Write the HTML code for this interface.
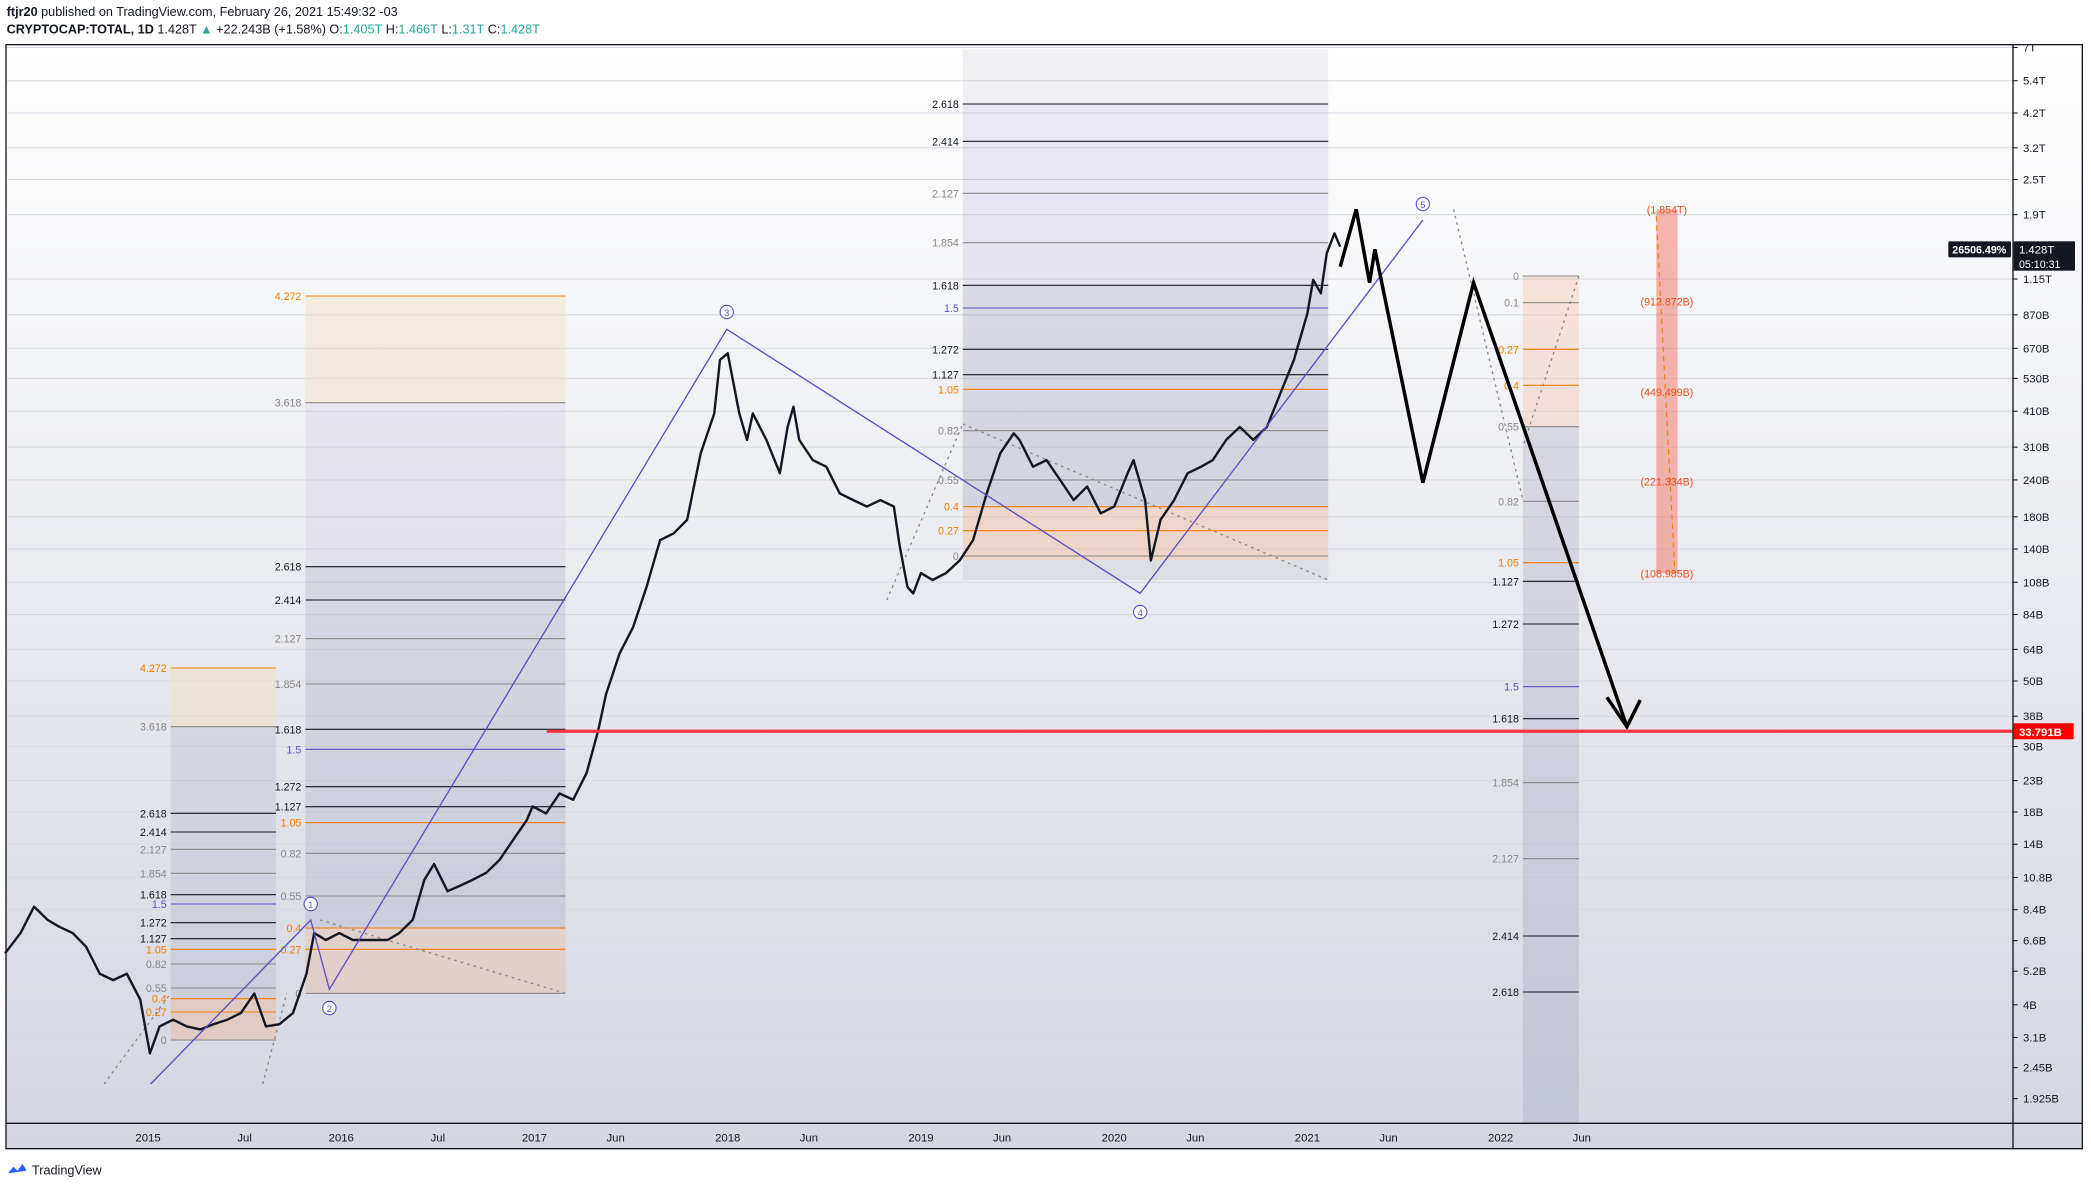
<!DOCTYPE html>
<html><head><meta charset="utf-8"><style>
html,body{margin:0;padding:0;background:#fff;}
svg{display:block;font-family:"Liberation Sans",sans-serif;}
</style></head><body>
<svg id="chart" width="2091" height="1188" viewBox="0 0 1568 891" preserveAspectRatio="none" xmlns="http://www.w3.org/2000/svg">
<defs>
<linearGradient id="bg" x1="0" y1="0" x2="0" y2="1"><stop offset="0" stop-color="#ffffff"/><stop offset="1" stop-color="#d3d6e0"/></linearGradient>
</defs>
<text x="5" y="12" font-size="9.5" fill="#131722"><tspan font-weight="bold">ftjr20</tspan> published on TradingView.com, February 26, 2021 15:49:32 -03</text>
<text x="5" y="25" font-size="9.5" fill="#131722"><tspan font-weight="bold">CRYPTOCAP:TOTAL, 1D</tspan> 1.428T <tspan fill="#26a69a">▲</tspan> +22.243B (+1.58%) O:<tspan fill="#26a69a">1.405T</tspan> H:<tspan fill="#26a69a">1.466T</tspan> L:<tspan fill="#26a69a">1.31T</tspan> C:<tspan fill="#26a69a">1.428T</tspan></text>
<rect x="4.5" y="33.5" width="1557" height="828" fill="url(#bg)" stroke="#131722" stroke-width="1"/>
<g id="grid"></g>
<g id="annot"></g>
<g id="series"></g>
<g id="overlay"></g>
<line x1="1509.5" y1="33" x2="1509.5" y2="862" stroke="#131722" stroke-width="1"/>
<line x1="4" y1="842.5" x2="1562" y2="842.5" stroke="#131722" stroke-width="1"/>
<g id="axes"></g>
<text x="24" y="881" font-size="9.5" fill="#131722">TradingView</text>
<path d="M6 880 l4 -5 l3 3 l4 -5 l3 5 z" fill="#2962ff"/>
</svg>
<script>
const NS="http://www.w3.org/2000/svg";
// ---- data ----
const dates=[2014.26,2014.34,2014.41,2014.48,2014.54,2014.61,2014.68,2014.75,2014.82,2014.89,2014.96,2015.01,2015.06,2015.13,2015.20,2015.27,2015.34,2015.41,2015.48,2015.55,2015.61,2015.68,2015.75,2015.82,2015.86,2015.92,2015.99,2016.06,2016.13,2016.24,2016.30,2016.37,2016.43,2016.48,2016.55,2016.61,2016.68,2016.75,2016.82,2016.89,2016.96,2016.99,2017.06,2017.13,2017.20,2017.27,2017.33,2017.37,2017.44,2017.51,2017.58,2017.65,2017.72,2017.79,2017.86,2017.93,2017.96,2018.00,2018.02,2018.06,2018.10,2018.13,2018.20,2018.27,2018.31,2018.34,2018.37,2018.44,2018.51,2018.58,2018.65,2018.72,2018.79,2018.86,2018.89,2018.93,2018.96,2019.00,2019.06,2019.13,2019.20,2019.27,2019.34,2019.41,2019.48,2019.51,2019.58,2019.65,2019.72,2019.79,2019.86,2019.93,2020.00,2020.07,2020.10,2020.16,2020.19,2020.24,2020.31,2020.38,2020.45,2020.51,2020.58,2020.65,2020.72,2020.79,2020.86,2020.93,2021.00,2021.03,2021.07,2021.10,2021.14,2021.17];
const values=[5.98,7.0,8.6,7.76,7.36,7.0,6.29,5.1,4.85,5.1,4.16,2.74,3.38,3.56,3.38,3.3,3.44,3.56,3.75,4.37,3.38,3.44,3.75,5.1,7.0,6.63,7.0,6.63,6.63,6.63,7.0,7.76,10.6,12.0,9.7,10.1,10.6,11.2,12.4,14.5,16.9,18.8,17.8,20.8,19.8,24.4,34,45,62,76,104,150,158,176,295,403,612,644,551,403,328,403,328,253,363,425,328,280,266,216,205,195,205,195,143,104,99,116,110,116,128,150,216,295,345,328,266,280,240,205,228,185,195,253,280,205,128,176,205,253,266,280,328,363,328,363,471,612,880,1142,1029,1406,1642,1480];
const yTicks=[7000,5400,4200,3200,2500,1900,1150,870,670,530,410,310,240,180,140,108,84,64,50,38,30,23,18,14,10.8,8.4,6.6,5.2,4,3.1,2.45,1.925];
const yTickLabels=["7T","5.4T","4.2T","3.2T","2.5T","1.9T","1.15T","870B","670B","530B","410B","310B","240B","180B","140B","108B","84B","64B","50B","38B","30B","23B","18B","14B","10.8B","8.4B","6.6B","5.2B","4B","3.1B","2.45B","1.925B"];
const xTicks=[2015,2015.5,2016,2016.5,2017,2017.42,2018,2018.42,2019,2019.42,2020,2020.42,2021,2021.42,2022,2022.42];
const xTickLabels=["2015","Jul","2016","Jul","2017","Jun","2018","Jun","2019","Jun","2020","Jun","2021","Jun","2022","Jun"];
const supportLevel=33.791;
// ---- scales ----
function x(t){return 111+(t-2015)*144.9;}
function y(v){return 161+(Math.log10(1900)-Math.log10(v))*221.4;}
function el(tag,attrs,parent,txt){const e=document.createElementNS(NS,tag);for(const k in attrs)e.setAttribute(k,attrs[k]);if(txt!==undefined)e.textContent=txt;parent.appendChild(e);return e;}
const grid=document.getElementById('grid'),axes=document.getElementById('axes'),series=document.getElementById('series'),annot=document.getElementById('annot'),ov=document.getElementById('overlay');
yTicks.forEach((v,i)=>{
  const yy=y(v);
  if(yy<35)return;
  const g=el('line',{x1:5,x2:1509,y1:yy,y2:yy,stroke:'#d6d9e2','stroke-width':0.8},grid);
  
  el('line',{x1:1509,x2:1513,y1:yy,y2:yy,stroke:'#131722','stroke-width':0.8},axes);
  const t=el('text',{x:1517,y:yy+3,'font-size':8.5,fill:'#131722'},axes,yTickLabels[i]);
  
});
xTicks.forEach((t,i)=>{
  const xx=x(t);
  const l=el('text',{x:xx,y:856,'font-size':8.5,fill:'#131722','text-anchor':'middle'},axes,xTickLabels[i]);
  
});
// ---- fib annotations ----
function fib(x1,x2,levels,fills){
  fills.forEach(f=>{el('rect',{x:x1,y:f[0],width:x2-x1,height:f[1]-f[0],fill:f[2]},annot);});
  levels.forEach(L=>{
    const c=L[2]||'#131722';
    el('line',{x1:x1,x2:x2,y1:L[1],y2:L[1],stroke:c,'stroke-width':0.8,opacity:L[3]||1},annot);
    const t=el('text',{x:x1-3,y:L[1]+3,'font-size':8,fill:c,'text-anchor':'end'},annot,L[0]);
    
  });
}
const O='#f57c00',G='#888',P='#5b4fc4',K='#131722';
fib(128,207,[["4.272",501,O],["3.618",545,G],["2.618",610,K],["2.414",624,K],["2.127",637,G],["1.854",655,G],["1.618",671,K],["1.5",678,P],["1.272",692,K],["1.127",704,K],["1.05",712,O],["0.82",723,G],["0.55",741,G],["0.4",749,O],["0.27",759,O],["0",780,G]],
 [[501,545,'rgba(245,225,190,0.45)'],[545,749,'rgba(160,160,185,0.22)'],[749,780,'rgba(245,160,110,0.28)']]);
fib(229,424,[["4.272",222,O],["3.618",302,G],["2.618",425,K],["2.414",450,K],["2.127",479,G],["1.854",513,G],["1.618",547,K],["1.5",562,P],["1.272",590,K],["1.127",605,K],["1.05",617,O],["0.82",640,G],["0.55",672,G],["0.4",696,O],["0.27",712,O],["0",745,G]],
 [[222,302,'rgba(245,225,190,0.45)'],[302,425,'rgba(190,180,215,0.22)'],[425,696,'rgba(150,150,180,0.24)'],[696,745,'rgba(245,160,110,0.22)']]);
fib(722,996,[["2.618",78,K],["2.414",106,K],["2.127",145,G],["1.854",182,G],["1.618",214,K],["1.5",231,P],["1.272",262,K],["1.127",281,K],["1.05",292,O],["0.82",323,G],["0.55",360,G],["0.4",380,O],["0.27",398,O],["0",417,G]],
 [[37,78,'rgba(200,200,210,0.25)'],[78,214,'rgba(180,170,210,0.25)'],[214,380,'rgba(150,150,175,0.3)'],[380,420,'rgba(245,160,110,0.3)'],[420,435,'rgba(190,190,200,0.3)']]);
fib(1142,1184,[["0",207,G],["0.1",227,G],["0.27",262,O],["0.4",289,O],["0.55",320,G],["0.82",376,G],["1.05",422,O],["1.127",436,K],["1.272",468,K],["1.5",515,P],["1.618",539,K],["1.854",587,G],["2.127",644,G],["2.414",702,K],["2.618",744,K]],
 [[207,320,'rgba(245,190,160,0.35)'],[320,842,'rgba(160,160,185,0.3)']]);
// red projection bar
el('rect',{x:1242,y:157,width:16,height:273,fill:'rgba(242,100,80,0.45)'},annot);
el('line',{x1:1242,y1:162,x2:1256,y2:430,stroke:O,'stroke-width':0.8,'stroke-dasharray':'4 3'},annot);
[["(1.854T)",160],["(912.872B)",229],["(449.499B)",297],["(221.334B)",364],["(108.985B)",433]].forEach(a=>{
  const t=el('text',{x:1250,y:a[1],'font-size':8,fill:'#e8501e','text-anchor':'middle'},annot,a[0]);
  
});
// dotted guides
[[78,813,128,745],[197,813,215,745],[240,690,424,745],[665,450,722,318],[722,318,996,435],[1090,157,1142,375],[1184,207,1142,335]].forEach(d=>{
  el('line',{x1:d[0],y1:d[1],x2:d[2],y2:d[3],stroke:'#8a8a8a','stroke-width':1,'stroke-dasharray':'2 3'},annot);
});
// ---- price series ----
let dp='';dates.forEach((t,i)=>{dp+=(i?'L':'M')+x(t).toFixed(1)+' '+y(values[i]).toFixed(1);});
const pl=el('path',{d:dp,fill:'none',stroke:'#131722','stroke-width':1.8,'stroke-linejoin':'round'},series);

// ---- waves ----
const w=el('polyline',{points:'113,813 233,690 247,742 545,247 855,445 1067,165',fill:'none',stroke:P,'stroke-width':1},ov);

[["1",233,678],["2",247,756],["3",545,234],["4",855,459],["5",1067,153]].forEach(c=>{
  el('circle',{cx:c[1],cy:c[2],r:5,fill:'#fff',stroke:P,'stroke-width':0.8},ov);
  const t=el('text',{x:c[1],y:c[2]+3,'font-size':7,fill:P,'text-anchor':'middle'},ov,c[0]);
  
});
const bp=el('polyline',{points:'1005,200 1017,157 1027,212 1031,187 1067,362 1105,212 1220,545',fill:'none',stroke:'#000','stroke-width':2.6,'stroke-linejoin':'miter'},ov);

el('polyline',{points:'1205,523 1220,545 1230,525',fill:'none',stroke:'#000','stroke-width':2.6},ov);
// support line
const sl=el('line',{x1:410,x2:1509,y1:y(supportLevel),y2:y(supportLevel),stroke:'#f23645','stroke-width':2.4},ov);

el('rect',{x:1510,y:y(supportLevel)-6,width:45,height:12,fill:'#f00'},ov);
el('text',{x:1514,y:y(supportLevel)+3.5,'font-size':8.5,fill:'#fff','font-weight':'bold'},ov,'33.791B');
// last price labels
el('rect',{x:1461,y:181,width:47,height:12,fill:'#131722',rx:1},ov);
el('text',{x:1464,y:190,'font-size':8,fill:'#fff','font-weight':'bold'},ov,'26506.49%');
el('rect',{x:1510,y:181,width:46,height:22,fill:'#131722'},ov);
el('text',{x:1514,y:190,'font-size':8.5,fill:'#fff'},ov,'1.428T');
el('text',{x:1514,y:201,'font-size':8,fill:'#fff'},ov,'05:10:31');
</script>
</body></html>
